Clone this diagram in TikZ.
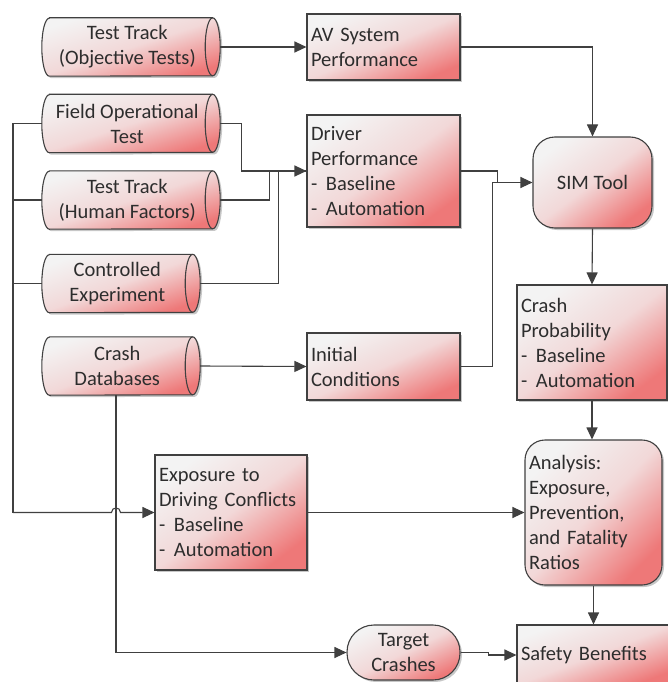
\documentclass[tikz,border=0pt]{standalone}
\usepackage{fontspec}
\setmainfont{Carlito}
\usetikzlibrary{arrows.meta, shadows, calc}

\definecolor{lightfill}{RGB}{243,243,243}
\definecolor{redfill}{RGB}{238,120,120}
\definecolor{linec}{RGB}{64,64,64}
\definecolor{txtc}{RGB}{45,45,45}

\pgfdeclarelayer{canvasbg}
\pgfdeclarelayer{storebodies}
\pgfsetlayers{canvasbg,storebodies,main}

\tikzset{
  txt/.style={text=txtc, font=\fontsize{20.5}{25}\selectfont},
  skin/.style={draw=linec, line width=1.1pt,
    left color=lightfill, right color=redfill, middle color=lightfill!78!redfill,
    shading angle=#1,
    drop shadow={shadow xshift=2pt, shadow yshift=-2pt, fill=black, opacity=0.22}},
  skin/.default=30,
  storetext/.style={txt, rectangle, align=center, minimum height=58pt, inner sep=0pt},
  infobox/.style={txt, skin=#1, rectangle, align=left, inner xsep=4pt, inner ysep=0pt},
  infobox/.default=30,
  conn/.style={draw=linec, line width=1.1pt},
  flow/.style={conn, -{Triangle[length=12pt,width=11pt]}},
}
\newcommand{\bul}[1]{\makebox[15pt][l]{-}#1}
% horizontal data-store cylinder around a named node; the end face sits on its east side
\newcommand{\storebody}[2]{%
  \path[skin=#2] ([xshift=7.5pt]#1.north west) -- (#1.north east)
    arc[start angle=90, end angle=-90, x radius=7.5pt, y radius=29pt]
    -- ([xshift=7.5pt]#1.south west)
    arc[start angle=270, end angle=90, x radius=7.5pt, y radius=29pt] -- cycle;
  \draw[conn] (#1.north east)
    arc[start angle=90, end angle=270, x radius=7.5pt, y radius=29pt];
}

\begin{document}
\begin{tikzpicture}[x=1pt, y=-1pt]
  \useasboundingbox (0,0) rectangle (668,682);
  \begin{pgfonlayer}{canvasbg}
    \fill[white] (0,0) rectangle (668,682);
  \end{pgfonlayer}
  \clip (0,0) rectangle (668,682);

  % data sources
  \node[storetext, minimum width=170.5pt] (obj) at (127.25,47) {Test Track\\(Objective Tests)};
  \node[storetext, minimum width=170.5pt] (fot) at (127.25,123.5) {Field Operational\\Test};
  \node[storetext, minimum width=170.5pt] (hf)  at (127.25,200) {Test Track\\(Human Factors)};
  \node[storetext, minimum width=150.5pt] (ce)  at (117.25,283.5) {Controlled\\Experiment};
  \node[storetext, minimum width=150.5pt] (cdb) at (117.25,366) {Crash\\Databases};
  \begin{pgfonlayer}{storebodies}
    \storebody{obj}{18}\storebody{fot}{18}\storebody{hf}{18}
    \storebody{ce}{20}\storebody{cdb}{20}
  \end{pgfonlayer}

  % intermediate measures
  \node[infobox=23, text width=145pt, minimum height=66pt] (av) at (383.5,47) {AV System\\Performance};
  \node[infobox=36, text width=145pt, minimum height=112pt] (dp) at (383.5,171)
    {Driver\\Performance\\\bul{Baseline}\\\bul{Automation}};
  \node[infobox=24, text width=145pt, minimum height=67pt] (ic) at (383.5,366.5) {Initial\\Conditions};
  \node[infobox=37, text width=144pt, minimum height=115pt] (exp) at (231,512.5)
    {Exposure to\\Driving Conflicts\\\bul{Baseline}\\\bul{Automation}};

  % simulation and analysis
  \node[infobox=37, rounded corners=22pt, align=center, minimum width=119pt, minimum height=91pt] (sim) at (592.5,182.5) {SIM Tool};
  \node[infobox=37, text width=142pt, minimum height=115pt] (cp) at (592,342.5)
    {Crash\\Probability\\\bul{Baseline}\\\bul{Automation}};
  \node[infobox=46, rounded corners=20pt, text width=129pt, minimum height=145pt] (an) at (593.5,512.5)
    {Analysis:\\Exposure,\\Prevention,\\and Fatality\\Ratios};
  \node[infobox=26, rounded corners=27pt, align=center, minimum width=113pt, minimum height=55pt] (tc) at (403.5,652.5) {Target\\Crashes};
  \node[infobox=21, text width=145pt, minimum height=60pt] (sb) at (593.5,655) {Safety Benefits};

  % connectors
  \draw[flow] ([xshift=7.5pt]obj.east) -- (av.west);
  \draw[flow] (av.east) -| (sim.north);

  \draw[conn] ([xshift=7.5pt]hf.east) -- ++(49,0) |- (dp.west);
  \draw[conn] ([xshift=7.5pt]ce.east) -- ++(78,0) |- (dp.west);
  \draw[flow] ([xshift=7.5pt]fot.east) -- ++(21,0) |- (dp.west);

  \draw[conn] (ic.east) -- ++(32,0) |- (sim.west);
  \draw[flow] (dp.east) -- ++(37,0) |- (sim.west);

  \draw[flow] ([xshift=7.5pt]cdb.east) -- (ic.west);

  \draw[flow] (sim.south) -- (cp.north);
  \draw[flow] (cp.south) -- (cp.south |- an.north);
  \draw[flow] (an.south) -- (an.south |- sb.north);
  \draw[flow] (exp.east) -- (an.west);

  % left bus feeding the exposure estimate, hopping over the crash-data line
  \coordinate (busbottom) at (13,512.5);
  \coordinate (hop) at (116,512.5);
  \draw[conn] (fot.west) -| (busbottom);
  \draw[conn] (hf.west) -- (hf.west -| busbottom);
  \draw[conn] (ce.west) -- (ce.west -| busbottom);
  \draw[flow] (busbottom) -- ($(hop)+(-4.5,0)$) .. controls +(0,-6) and +(0,-6) .. ($(hop)+(4.5,0)$) -- (exp.west);

  \draw[flow] (cdb.south -| hop) |- (tc.west);
  \draw[flow] (tc.east) -- ++(28,0) |- (sb.west);
\end{tikzpicture}
\end{document}
